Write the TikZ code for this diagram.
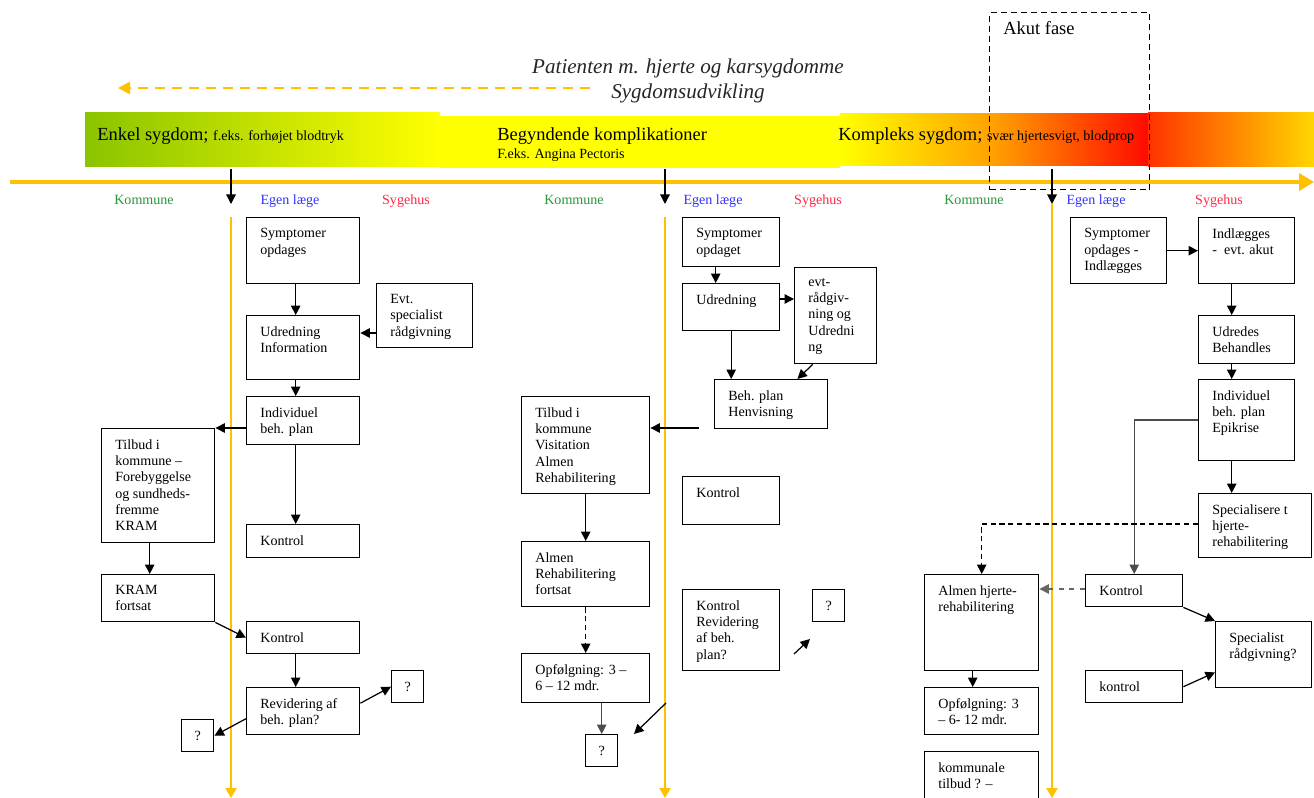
\documentclass[tikz,border=0pt]{standalone}
\usepackage{fontspec}
\setmainfont{Liberation Serif}
\usetikzlibrary{arrows.meta, calc}

\definecolor{timeline}{RGB}{255,192,0}
\definecolor{barGreen}{RGB}{138,196,0}
\definecolor{barYellow}{RGB}{255,255,0}
\definecolor{barOrange}{RGB}{255,160,0}
\definecolor{barRed}{RGB}{255,10,0}
\definecolor{barRedOrange}{RGB}{255,50,0}
\definecolor{barYellowOrange}{RGB}{255,215,0}
\definecolor{kommuneGreen}{RGB}{40,150,60}
\definecolor{laegeBlue}{RGB}{50,50,255}
\definecolor{sygehusRed}{RGB}{255,40,70}

\newcommand{\boxfont}{\fontsize{8}{9.3}\selectfont}
\newcommand{\barfont}{\fontsize{10.5}{12}\selectfont}

\tikzset{
  box/.style={draw, line width=0.8pt, anchor=north west, inner sep=0pt},
  boxtext/.style={anchor=north west, inner sep=0pt, align=left,
    xshift=2.8mm, yshift=-2.2mm, font=\boxfont},
  qbox/.style={box, font=\boxfont, minimum width=6.4mm, minimum height=6.4mm},
  conn/.style={->, line width=0.7pt},
  lane/.style={timeline, line width=1.2pt, -{Triangle[length=2mm, width=2.2mm]}},
  header/.style={anchor=base, font=\boxfont}
}

% box from top left (x1,y1) to bottom right (x2,y2), text at top left
\newcommand{\boks}[6]{%
  \node[box, minimum width=(#4-#2)*0.2mm, minimum height=(#5-#3)*0.2mm,
    label={[boxtext]north west:{#6}}] (#1) at (#2,#3) {};}

\begin{document}
\begin{tikzpicture}[x=0.2mm, y=-0.2mm, >={Triangle[length=1.9mm, width=1.9mm]}]
    \useasboundingbox (0,0) rectangle (1314,798);

    % --- Title and direction ---
    \node[align=center, font=\fontsize{12}{14.2}\selectfont\itshape, text=black!85] (title)
      at (688,81) {Patienten m. hjerte og karsygdomme\\Sygdomsudvikling};
    \coordinate (dir-start) at (590,88);
    \coordinate (dir-end) at (118,88);
    \draw[timeline, line width=1.5pt, dash pattern=on 2mm off 1.4mm,
      -{Triangle[length=2.4mm, width=2.4mm]}] (dir-start) -- (dir-end);

    % --- Disease bar ---
    \shade[left color=barGreen, right color=barYellow] (85,113) rectangle (440,167);
    \fill[barYellow] (440,116) rectangle (840,168);
    \shade[left color=barYellow, right color=barRed, middle color=barOrange] (840,114) rectangle (1148,166);
    \shade[left color=barRedOrange, right color=barYellowOrange] (1148,113) rectangle (1314,167);

    \node[anchor=base west, inner sep=0pt, font=\barfont] (enkel) at (97,141)
      {Enkel sygdom; {\boxfont f.eks. forhøjet blodtryk}};
    \node[anchor=base west, inner sep=0pt, font=\barfont] (begynd) at (497,141)
      {Begyndende komplikationer};
    \node[anchor=base west, inner sep=0pt, font=\boxfont] (angina) at (497,159)
      {F.eks. Angina Pectoris};
    \node[anchor=base west, inner sep=0pt, font=\barfont] (kompleks) at (838,141)
      {Kompleks sygdom; {\boxfont svær hjertesvigt, blodprop}};

    % --- Time line ---
    \coordinate (time-start) at (10,182);
    \coordinate (time-end) at (1314,182);
    \draw[timeline, line width=2.4pt, -{Triangle[length=3mm, width=3.4mm]}] (time-start) -- (time-end);

    % --- Acute phase ---
    \node[draw, dash pattern=on 1.2mm off 0.8mm, line width=0.7pt, anchor=north west,
      inner sep=0pt, minimum width=(1149-989)*0.2mm, minimum height=(189-12)*0.2mm] (akut) at (989,12) {};
    \node[anchor=base west, inner sep=0pt, font=\barfont] (akut-lbl) at (1003,35) {Akut fase};

    % --- Lanes ---
    \coordinate (drop1) at (231,169);  \coordinate (drop1-end) at (231,204);
    \coordinate (drop2) at (665,169);  \coordinate (drop2-end) at (665,204);
    \coordinate (drop3) at (1052,169); \coordinate (drop3-end) at (1052,204);
    \draw[conn] (drop1) -- (drop1-end);
    \draw[conn] (drop2) -- (drop2-end);
    \draw[conn] (drop3) -- (drop3-end);

    \coordinate (lane1-top) at (231,217); \coordinate (lane1-bot) at (231,798);
    \coordinate (lane2-top) at (665,217); \coordinate (lane2-bot) at (665,798);
    \coordinate (lane3-top) at (1052,204); \coordinate (lane3-bot) at (1052,798);
    \draw[lane] (lane1-top) -- (lane1-bot);
    \draw[lane] (lane2-top) -- (lane2-bot);
    \draw[lane] (lane3-top) -- (lane3-bot);

    % --- Column headers ---
    \node[header, text=kommuneGreen] (kom1) at (144,205) {Kommune};
    \node[header, text=laegeBlue] (lae1) at (290,205) {Egen læge};
    \node[header, text=sygehusRed] (syg1) at (406,205) {Sygehus};
    \node[header, text=kommuneGreen] (kom2) at (574,205) {Kommune};
    \node[header, text=laegeBlue] (lae2) at (713,205) {Egen læge};
    \node[header, text=sygehusRed] (syg2) at (818,205) {Sygehus};
    \node[header, text=kommuneGreen] (kom3) at (974,205) {Kommune};
    \node[header, text=laegeBlue] (lae3) at (1096,205) {Egen læge};
    \node[header, text=sygehusRed] (syg3) at (1219,205) {Sygehus};

    % --- Enkel sygdom ---
    \boks{s1}{246}{217}{359}{283}{Symptomer\\opdages}
    \boks{e1}{376}{283}{472}{347}{Evt.\\specialist\\rådgivning}
    \boks{u1}{246}{315}{359}{379}{Udredning\\Information}
    \boks{i1}{246}{396}{359}{444}{Individuel\\beh. plan}
    \boks{t1}{101}{428}{214}{542}{Tilbud i\\kommune –\\Forebyggelse\\og sundheds-\\fremme\\KRAM}
    \boks{k1}{246}{524}{359}{557}{Kontrol}
    \boks{kf1}{101}{574}{214}{621}{KRAM\\fortsat}
    \boks{k1b}{246}{621}{359}{653}{Kontrol}
    \boks{r1}{246}{687}{359}{734}{Revidering af\\beh. plan?}
    \node[qbox] (q1a) at (391,670) {?};
    \node[qbox] (q1b) at (181,719) {?};

    \draw[conn] ([xshift=-1.5mm]s1.south) -- ([xshift=-1.5mm]u1.north);
    \draw[conn] (e1.west |- 0,333) -- (u1.east |- 0,333);
    \draw[conn] ([xshift=-1.5mm]u1.south) -- ([xshift=-1.5mm]i1.north);
    \draw[conn] (i1.west |- t1.north) -- (t1.north east);
    \draw[conn] ([xshift=-1.5mm]i1.south) -- ([xshift=-1.5mm]k1.north);
    \draw[conn] ([xshift=-1.7mm]t1.south) -- ([xshift=-1.7mm]kf1.north);
    \draw[conn] (kf1.south east) -- (k1b.west);
    \draw[conn] ([xshift=-1.5mm]k1b.south) -- ([xshift=-1.5mm]r1.north);
    \draw[conn] ([yshift=1.6mm]r1.east) -- (q1a.west);
    \draw[conn] ([yshift=-1.5mm]r1.west) -- (q1b.east);

    % --- Begyndende komplikationer ---
    \boks{s2}{682}{217}{779}{266}{Symptomer\\opdaget}
    \boks{u2}{682}{283}{779}{330}{Udredning}
    \boks{e2}{794}{267}{876}{363}{evt-\\rådgiv-\\ning og\\Udredni\\ng}
    \boks{b2}{714}{379}{827}{428}{Beh. plan\\Henvisning}
    \boks{t2}{521}{396}{649}{493}{Tilbud i\\kommune\\Visitation\\Almen\\Rehabilitering}
    \boks{k2}{682}{476}{779}{524}{Kontrol}
    \boks{a2}{521}{541}{649}{606}{Almen\\Rehabilitering\\fortsat}
    \boks{o2}{521}{653}{649}{702}{Opfølgning: 3 –\\6 – 12 mdr.}
    \boks{kr2}{682}{589}{779}{670}{Kontrol\\Revidering\\af beh.\\plan?}
    \node[qbox] (q2) at (585,734) {?};
    \node[qbox] (q2b) at (812,589) {?};

    \coordinate (bp2) at (699,428);
    \coordinate (lane2-out) at (666,703);
    \coordinate (lane2-q) at (634,734);
    \coordinate (kr2-out) at (794,654);
    \coordinate (kr2-q) at (810,639);

    \draw[conn] ([xshift=-3.1mm]s2.south) -- ([xshift=-3.1mm]u2.north);
    \draw[conn] (u2.east |- 0,299) -- (e2.west |- 0,299);
    \draw[conn] (u2.south) -- (u2.south |- b2.north);
    \draw[conn] ([xshift=-4.6mm]e2.south) -- ([xshift=-6.2mm]b2.north east);
    \draw[conn] (bp2) -- (t2.east |- bp2);
    \draw[conn] (t2.south) -- (a2.north);
    \draw[conn, densely dashed] (a2.south) -- (o2.north);
    \draw[conn, black!70] (o2.south -| q2.north) -- (q2.north);
    \draw[conn] (lane2-out) -- (lane2-q);
    \draw[conn] (kr2-out) -- (kr2-q);

    % --- Kompleks sygdom ---
    \boks{s3}{1070}{217}{1166}{283}{Symptomer\\opdages -\\Indlægges}
    \boks{i3}{1198}{217}{1294}{283}{Indlægges\\-\ \ evt. akut}
    \boks{u3}{1198}{315}{1294}{363}{Udredes\\Behandles}
    \boks{ib3}{1198}{379}{1294}{460}{Individuel\\beh. plan\\Epikrise}
    \boks{sp3}{1198}{493}{1311}{557}{Specialisere t\\hjerte-\\rehabilitering}
    \boks{a3}{924}{574}{1038}{670}{Almen hjerte-\\rehabilitering}
    \boks{k3}{1085}{574}{1182}{606}{Kontrol}
    \boks{sr3}{1215}{621}{1311}{687}{Specialist\\rådgivning?}
    \boks{kk3}{1085}{670}{1182}{702}{kontrol}
    \boks{o3}{924}{687}{1038}{734}{Opfølgning: 3\\– 6- 12 mdr.}
    \boks{kt3}{924}{751}{1038}{830}{kommunale\\tilbud ? –}

    \draw[conn] (s3.east) -- (i3.west);
    \draw[conn] ([xshift=-3mm]i3.south) -- ([xshift=-3mm]u3.north);
    \draw[conn] ([xshift=-3mm]u3.south) -- ([xshift=-3mm]ib3.north);
    \draw[conn] ([xshift=-3mm]ib3.south) -- ([xshift=-3mm]ib3.south |- sp3.north);
    \draw[conn, black!70] (ib3.west |- 0,420) -| (k3.north);
    \draw[conn, densely dashed] (sp3.west |- 0,524) -| (a3.north);
    \draw[conn, dashed, black!60] (k3.west |- 0,589) -- (a3.east |- 0,589);
    \draw[conn] (k3.south east) -- (sr3.north west);
    \draw[conn] (kk3.east) -- ([yshift=3.2mm]sr3.south west);
    \draw[conn] ([xshift=-1.8mm]a3.south) -- ([xshift=-1.8mm]o3.north);
\end{tikzpicture}
\end{document}
